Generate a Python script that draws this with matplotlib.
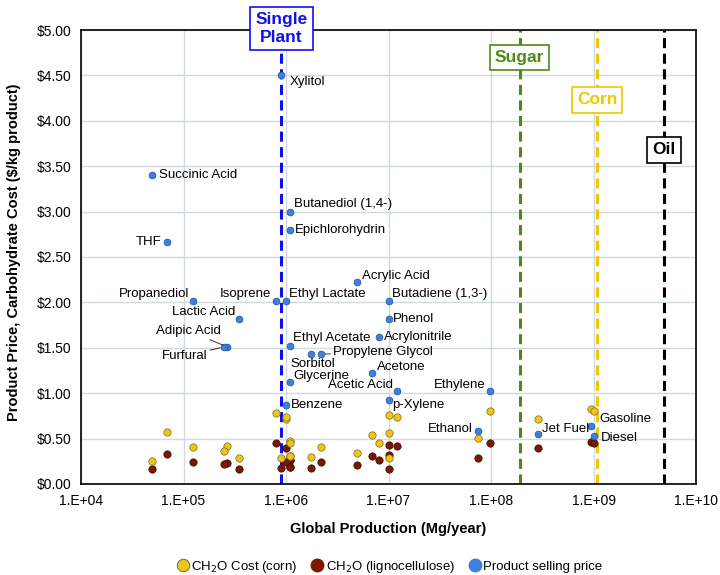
import numpy as np
import matplotlib
matplotlib.use("Agg")
import matplotlib.pyplot as plt
from matplotlib.ticker import FuncFormatter, FixedLocator
from matplotlib.lines import Line2D

plt.rcParams['font.family'] = ['Liberation Sans', 'DejaVu Sans']

# product data
products = ['Xylitol', 'Succinic Acid', 'Butanediol (1,4-)', 'Epichlorohydrin', 'THF',
            'Propanediol', 'Isoprene', 'Ethyl Lactate', 'Acrylic Acid', 'Butadiene (1,3-)',
            'Lactic Acid', 'Phenol', 'Adipic Acid', 'Furfural', 'Ethyl Acetate',
            'Acrylonitrile', 'Propylene Glycol', 'Sorbitol', 'Acetone', 'Glycerine',
            'Acetic Acid', 'p-Xylene', 'Benzene', 'Ethylene', 'Ethanol',
            'Jet Fuel', 'Gasoline', 'Diesel']
production = [8.9e5, 4.9e4, 1.1e6, 1.1e6, 6.9e4,
              1.25e5, 7.9e5, 1.0e6, 4.9e6, 1.0e7,
              3.5e5, 1.0e7, 2.67e5, 2.5e5, 1.1e6,
              8.0e6, 2.2e6, 1.75e6, 6.9e6, 1.1e6,
              1.2e7, 1.0e7, 1.0e6, 9.8e7, 7.5e7,
              2.9e8, 9.4e8, 1.0e9]
price = [4.50, 3.40, 3.00, 2.80, 2.67,
         2.02, 2.02, 2.02, 2.22, 2.02,
         1.82, 1.82, 1.51, 1.51, 1.52,
         1.62, 1.43, 1.43, 1.22, 1.12,
         1.02, 0.93, 0.87, 1.02, 0.58,
         0.55, 0.64, 0.53]
corn_cost = [0.29, 0.25, 0.47, 0.45, 0.57,
             0.41, 0.78, 0.72, 0.345, 0.565,
             0.286, 0.29, 0.42, 0.36, 0.31,
             0.45, 0.41, 0.30, 0.54, 0.31,
             0.74, 0.76, 0.74, 0.80, 0.506,
             0.72, 0.83, 0.80]
ligno_cost = [0.18, 0.16, 0.26, 0.26, 0.334,
              0.24, 0.45, 0.24, 0.205, 0.32,
              0.165, 0.165, 0.235, 0.217, 0.19,
              0.26, 0.24, 0.18, 0.31, 0.19,
              0.42, 0.43, 0.40, 0.45, 0.286,
              0.40, 0.46, 0.45]

# production scale thresholds
scale_names = ['Single\nPlant', 'Sugar', 'Corn', 'Oil']
scale_values = [9.0e5, 1.9e8, 1.08e9, 4.9e9]
scale_label_y = [5.015, 4.70, 4.23, 3.68]
scale_colors = ['#1010ee', '#4a8a1a', '#f0c800', '#000000']

# label placement: (dx, dy) in pixels, ha
label_pos = {
    'Xylitol': (9, -7, 'left'), 'Succinic Acid': (7, 0, 'left'),
    'Butanediol (1,4-)': (4, 8, 'left'), 'Epichlorohydrin': (5, 0, 'left'),
    'THF': (-5, 0, 'right'), 'Propanediol': (-4, 7, 'right'),
    'Isoprene': (-4, 7, 'right'), 'Ethyl Lactate': (3, 7, 'left'),
    'Acrylic Acid': (5, 6, 'left'), 'Butadiene (1,3-)': (3, 7, 'left'),
    'Lactic Acid': (-4, 7, 'right'), 'Phenol': (4, 0, 'left'),
    'Adipic Acid': (-6, 16, 'right'), 'Furfural': (-17, -9, 'right'),
    'Ethyl Acetate': (3, 8, 'left'), 'Acrylonitrile': (5, 0, 'left'),
    'Propylene Glycol': (12, 2, 'left'), 'Sorbitol': (2, -10, 'center'),
    'Acetone': (5, 6, 'left'), 'Glycerine': (3, 6, 'left'),
    'Acetic Acid': (-4, 6, 'right'), 'p-Xylene': (4, -5, 'left'),
    'Benzene': (5, 0, 'left'), 'Ethylene': (-4, 6, 'right'),
    'Ethanol': (-5, 2, 'right'), 'Jet Fuel': (4, 5, 'left'),
    'Gasoline': (9, 7, 'left'), 'Diesel': (7, -2, 'left'),
}

fig = plt.figure(figsize=(7.2, 5.75), dpi=100)
ax = fig.add_axes([0.1125, 0.1583, 0.8542, 0.7895])

ax.set_xscale('log')
ax.set_xlim(1e4, 1e10)
ax.set_ylim(0, 5)
ax.xaxis.set_major_locator(FixedLocator([10.0 ** k for k in range(4, 11)]))
ax.xaxis.set_minor_locator(FixedLocator([]))
ax.xaxis.set_major_formatter(FuncFormatter(lambda v, p: '1.E+%02d' % round(np.log10(v))))
ax.set_yticks(np.arange(0, 5.01, 0.5))
ax.yaxis.set_major_formatter(FuncFormatter(lambda v, p: '$%.2f' % v))
ax.tick_params(length=0, labelsize=10, pad=7)
ax.grid(True, color='#d0dade', linewidth=1.0)
ax.set_axisbelow(True)
for s in ax.spines.values():
    s.set_linewidth(1.2)

for name, xv, ly, c in zip(scale_names, scale_values, scale_label_y, scale_colors):
    ax.axvline(xv, color=c, linestyle=(0, (3.3, 1.8)), linewidth=2.2, zorder=2)
    ax.text(xv, ly, name, ha='center', va='center', color=c, fontsize=12.5,
            fontweight='bold', linespacing=1.25, zorder=5, clip_on=False,
            bbox=dict(boxstyle='square,pad=0.3', fc='white', ec=c, lw=1.2))

ax.scatter(production, ligno_cost, s=28, color='#7a1800', edgecolor='#3a0c00',
           linewidth=0.5, zorder=3)
ax.scatter(production, corn_cost, s=28, color='#f0c419', edgecolor='#7a6a20',
           linewidth=0.5, zorder=3)
ax.scatter(production, price, s=24, color='#3f7fe0', edgecolor='#1f4f90',
           linewidth=0.5, zorder=4)

for name, xv, yv in zip(products, production, price):
    dx, dy, ha = label_pos[name]
    arrow = None
    if name in ('Adipic Acid', 'Furfural', 'Propylene Glycol'):
        arrow = dict(arrowstyle='-', color='#333333', lw=0.7, shrinkA=0, shrinkB=3)
    ax.annotate(name, (xv, yv), xytext=(dx, dy), textcoords='offset pixels',
                ha=ha, va='center', fontsize=9.5, zorder=6, arrowprops=arrow)

ax.set_xlabel('Global Production (Mg/year)', fontsize=10.5, fontweight='bold', labelpad=10)
ax.set_ylabel('Product Price, Carbohydrate Cost ($/kg product)', fontsize=10.5,
              fontweight='bold')
ax.yaxis.set_label_coords(-0.097, 0.51)

handles = [
    Line2D([], [], marker='o', linestyle='', markersize=9, markerfacecolor='#f0c419',
           markeredgecolor='#555555', markeredgewidth=0.6, label='CH$_2$O Cost (corn)'),
    Line2D([], [], marker='o', linestyle='', markersize=9, markerfacecolor='#7a1800',
           markeredgecolor='#7a1800', label='CH$_2$O (lignocellulose)'),
    Line2D([], [], marker='o', linestyle='', markersize=9, markerfacecolor='#3f7fe0',
           markeredgecolor='#3f7fe0', label='Product selling price'),
]
fig.legend(handles=handles, loc='lower center', bbox_to_anchor=(0.54, -0.02), ncol=3,
           frameon=False, fontsize=9.5, handletextpad=0.05, columnspacing=0.9,
           handlelength=1.2)

fig.savefig('out.png', dpi=100)
